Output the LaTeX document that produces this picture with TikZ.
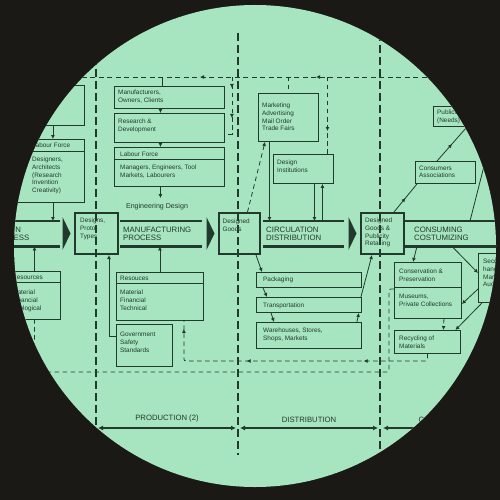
\documentclass[tikz,border=0pt]{standalone}
\usepackage{fontspec}
\setmainfont{Liberation Sans}
\usetikzlibrary{positioning, arrows.meta, decorations.markings}
\definecolor{ink}{RGB}{34,58,45}
\definecolor{mint}{RGB}{166,229,192}
\definecolor{night}{RGB}{27,25,21}
\tikzset{
  box/.style 2 args={draw=ink, line width=0.9pt, anchor=north west, inner sep=0pt, minimum width=#1pt, minimum height=#2pt},
  bigbox/.style 2 args={box={#1}{#2}, line width=2pt},
  txt/.style={anchor=north west, align=left, inner sep=0pt, text=ink, font=\fontsize{6.4}{7.7}\selectfont},
  band/.style={anchor=north west, minimum height=25pt, inner ysep=0pt, inner xsep=3pt, align=left, text width=#1pt, text=ink, font=\fontsize{7.8}{8.7}\selectfont},
  bar/.style={draw=ink, line width=2.2pt},
  line/.style={draw=ink, line width=0.8pt},
  arr/.style={line, -{Latex[length=4pt,width=4pt]}},
  dline/.style={line, dash pattern=on 4.5pt off 3.5pt},
  topline/.style={line, line width=0.9pt, dash pattern=on 5pt off 3.5pt},
  stageline/.style={draw=ink, line width=1.3pt, dash pattern=on 8pt off 4pt},
  midtip/.style={postaction={decorate, decoration={markings, mark=at position #1 with {\arrow{Latex[length=4pt,width=4pt]}}}}},
  dimarr/.style={draw=ink, line width=1.1pt, {Latex[length=5pt,width=5pt]}-{Latex[length=5pt,width=5pt]}},
  dimlab/.style={inner sep=0pt, text=ink, font=\fontsize{7.7}{9}\selectfont}
}
\begin{document}
\begin{tikzpicture}[x=1pt, y=-1pt]
\useasboundingbox (0,0) rectangle (500,500);
\fill[night] (0,0) rectangle (500,500);
\begin{scope}
\clip (255,246) circle (241pt);
\fill[mint] (0,0) rectangle (500,500);

% stages and feedback
\coordinate (sepA) at (96,33);
\coordinate (sepB) at (238,33);
\coordinate (sepC) at (380,33);
\coordinate (sepbot) at (0,455);
\coordinate (topW) at (-20,77);
\coordinate (topE) at (520,77);
\coordinate (retA) at (0,361);
\coordinate (retB) at (0,372);
\coordinate (dimL) at (0,428);
\coordinate (dimE) at (512,428);
\foreach \s in {sepA,sepB,sepC}
  \draw[stageline] (\s) -- (\s |- sepbot);
\draw[topline, midtip=204pt, midtip=320pt] (topE) -- (topW);

% main flow
\node[band=66] (band1) at (-12,221) {DESIGN\\PROCESS};
\node[bigbox={43}{41}] (des) at (74,212) {};
\node[txt] (dest) at (80,218) {Designs,\\Proto-\\Types};
\node[band=76] (band2) at (120,221) {MANUFACTURING\\PROCESS};
\node[bigbox={41}{41}] (dgood) at (218,212) {};
\node[txt] (dgoodt) at (222.5,219) {Designed\\Goods};
\node[band=75] (band3) at (263,221) {CIRCULATION\\DISTRIBUTION};
\node[bigbox={43}{41}] (dgpub) at (360,212) {};
\node[txt] (dgpubt) at (365,218) {Designed\\Goods \&\\Publicity\\Retailing};
\node[band=102, inner xsep=9pt] (band4) at (405,221) {CONSUMING\\COSTUMIZING};
\foreach \b in {band1,band2,band3,band4}{
  \draw[bar] (\b.north west) -- (\b.north east);
  \draw[bar] (\b.south west) -- (\b.south east);
}
\foreach \b in {des,dgood,dgpub}
  \fill[ink] ([xshift=-3.5pt]\b.west) -- ++(-8,-16.5) -- ++(0,33) -- cycle;

% design
\node[box={104}{40}] (inst1) at (-20,85) {};
\node[box={104}{12}] (lab1h) at (-20,139) {};
\node[box={104}{51}] (lab1) at (-20,151) {};
\node[txt] (lab1ht) at (32,142.5) {Labour Force};
\node[txt] (lab1t) at (32,157) {Designers,\\Architects\\(Research\\Invention\\Creativity)};
\node[box={52}{11}] (res1h) at (8,271) {};
\node[box={52}{37}] (res1) at (8,282) {};
\node[txt] (res1ht) at (12,275) {Resources};
\node[txt] (res1t) at (12,290) {Material\\Financial\\Ecological};
\draw[arr] ([xshift=-32pt]inst1.south east) -- ([xshift=-32pt]lab1h.north east);
\draw[arr] ([xshift=-32pt]lab1.south east) -- ([xshift=-32pt]lab1.south east |- band1.north);
\draw[arr] (res1h.north) -- (res1h.north |- band1.south);

% production
\node[box={110}{22}] (manu) at (114,86) {};
\node[txt] (manut) at (118,90) {Manufacturers,\\Owners, Clients};
\node[box={110}{29}] (rnd) at (114,113) {};
\node[txt] (rndt) at (118,119) {Research \&\\Development};
\node[box={110}{12}] (lab2h) at (114,147) {};
\node[box={110}{27}] (lab2) at (114,159) {};
\node[txt] (lab2ht) at (120,151.5) {Labour Force};
\node[txt] (lab2t) at (120,165) {Managers, Engineers, Tool\\Markets, Labourers};
\node[inner sep=5pt, text=ink, font=\fontsize{7.1}{8.5}\selectfont] (engd) at (157,206.6) {Engineering Design};
\node[box={87}{11}] (res2h) at (116,272) {};
\node[box={87}{37}] (res2) at (116,283) {};
\node[txt] (res2ht) at (120,275.5) {Resouces};
\node[txt] (res2t) at (120,290) {Material\\Financial\\Technical};
\node[box={56}{42}] (gov) at (116,324) {};
\node[txt] (govt) at (120,332) {Government\\Safety\\Standards};
\draw[line] ([xshift=-7pt]manu.north |- topW) -- ([xshift=-7pt]manu.north);
\draw[dline, midtip=11pt, midtip=41pt] ([xshift=7pt]rnd.east |- topW) |- ([yshift=-6pt]rnd.east);
\draw[arr] ([xshift=-9pt]manu.south) -- ([xshift=-9pt]rnd.north);
\draw[arr] ([xshift=-9pt]rnd.south) -- ([xshift=-9pt]lab2h.north);
\draw[arr] ([xshift=-9pt]lab2.south) -- ([xshift=-9pt]lab2.south |- engd.north);
\draw[arr] (res2h.north) -- (res2h.north |- band2.south);
\draw[arr] ([yshift=9pt]gov.west) -| ([xshift=12.5pt]des.south);

% distribution
\node[box={60}{48}] (mkt) at (258,93) {};
\node[txt] (mktt) at (262,103) {Marketing\\Advertising\\Mail Order\\Trade Fairs};
\node[box={60}{29}] (desi) at (273,154) {};
\node[txt] (desit) at (277,159.5) {Design\\Institutions};
\node[box={105}{15}] (pack) at (256,272) {};
\node[txt] (packt) at (263,277) {Packaging};
\node[box={105}{15}] (trans) at (256,297) {};
\node[txt] (transt) at (263,302.5) {Transportation};
\node[box={105}{26}] (ware) at (256,322) {};
\node[txt] (waret) at (263,328) {Warehouses, Stores,\\Shops, Markets};
\draw[dline] (mkt.north |- topW) -- (mkt.north);
\draw[dline, midtip=54pt] ([xshift=24pt]desi.north |- topW) -- ([xshift=24pt]desi.north);
\draw[arr] ([xshift=-19pt]mkt.south) -- ([xshift=-19pt]mkt.south |- band3.north);
\draw[arr] ([xshift=11pt]desi.south) -- ([xshift=11pt]desi.south |- band3.north);
\draw[arr] ([xshift=19pt]desi.south |- band3.north) -- ([xshift=19pt]desi.south);
\draw[dline, -{Latex[length=4pt,width=4pt]}] ([xshift=8pt]dgood.north) -- ([xshift=7pt]mkt.south west);
\draw[arr] ([xshift=-5pt]dgood.south east) -- ([xshift=6pt]pack.north west);
\draw[arr] ([xshift=7pt]pack.south west) -- ([xshift=11pt]trans.north west);
\draw[arr] ([xshift=15pt]trans.south west) -- ([xshift=18pt]ware.north west);
\draw[arr] ([xshift=-5pt]ware.north east) -- ([xshift=-3pt]trans.south east);
\draw[arr] ([xshift=-1pt]trans.north east) -- ([xshift=12pt]dgpub.south west);

% consumption
\node[box={80}{20}] (pub) at (433,106) {};
\node[txt] (pubt) at (437,109.5) {Publicity\\(Needs)};
\node[box={60}{22}] (cons) at (415,161) {};
\node[txt] (const) at (419,165.5) {Consumers\\Associations};
\node[box={60}{49}] (sec) at (478,253) {};
\node[txt] (sect) at (483,259) {Second\\hand\\Markets\\Auctions};
\node[box={67}{25}] (consv) at (394,262) {};
\node[txt] (consvt) at (399,269) {Conservation \&\\Preservation};
\node[box={67}{31}] (muse) at (394,287) {};
\node[txt] (muset) at (399,294) {Museums,\\Private Collections};
\node[box={66}{23}] (recyc) at (394,330) {};
\node[txt] (recyct) at (399,335.5) {Recycling of\\Materials};
\draw[line, midtip=0.5] ([xshift=-11pt]dgpub.north east) -- ([xshift=2pt]cons.south west);
\draw[line, midtip=0.5] ([xshift=22pt]cons.north west) -- ([xshift=34pt]pub.south west);
\draw[line] ([xshift=61pt]pub.south west) -- ([xshift=65pt]band4.north west);
\draw[arr] ([xshift=47pt]band4.south west) -- ([yshift=-20pt]sec.north west);
\draw[arr] ([xshift=12pt]band4.south west) -- ([xshift=19pt]consv.north west);
\draw[arr] ([yshift=-36pt]sec.north west) -- ([yshift=-17pt]muse.north east);
\draw[arr] ([xshift=4pt]sec.south west) -- ([xshift=28pt]recyc.north);
\draw[dline, -{Latex[length=4pt,width=4pt]}] ([xshift=16pt]muse.south) -- ([xshift=16pt]recyc.north);

% returns
\draw[dline, rounded corners=2pt, midtip=70pt, midtip=187pt, midtip=281pt] (recyc.south) -- (recyc.south |- retA) -| ([xshift=-20pt]res2.south east);
\draw[dline, rounded corners=2pt] ([yshift=-2pt]muse.north west) -- ++(-5,0) |- (retB -| res1.south) -- (res1.south);

% stage spans
\draw[dimarr] ([xshift=2pt]sepA |- dimL) -- ([xshift=-2pt]sepB |- dimL) node[dimlab, midway, above=5pt] (prodlab) {PRODUCTION (2)};
\draw[dimarr] ([xshift=2pt]sepB |- dimL) -- ([xshift=-2pt]sepC |- dimL) node[dimlab, midway, above=5pt] (distlab) {DISTRIBUTION};
\draw[dimarr] ([xshift=3pt]sepC |- dimL) -- (dimE) node[dimlab, midway, above=5pt] (conslab) {CONSUMPTION};
\end{scope}
\end{tikzpicture}
\end{document}
